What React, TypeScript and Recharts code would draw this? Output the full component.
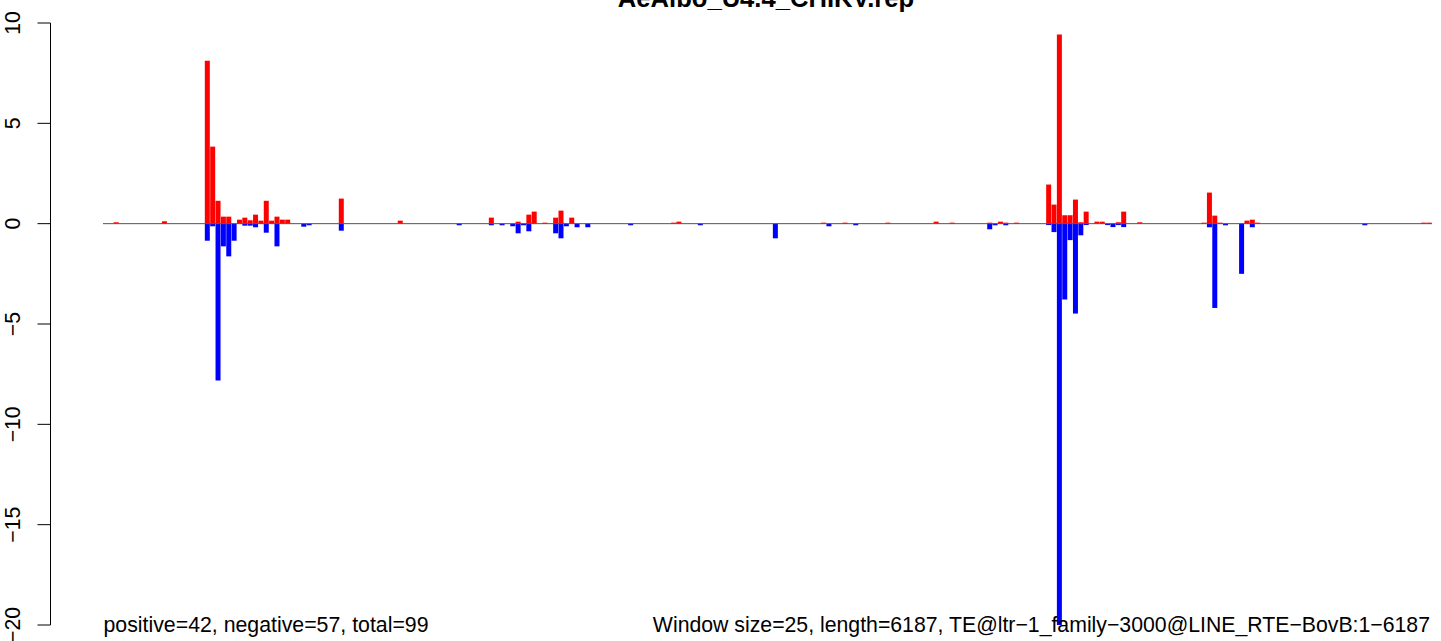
import React from 'react';
import { BarChart, Bar, XAxis, YAxis, ReferenceLine } from 'recharts';

const TITLE = 'AeAlbo_U4.4_CHIKV.rep';
const FOOT_LEFT = 'positive=42, negative=57, total=99';
const FOOT_RIGHT = 'Window size=25, length=6187, TE@ltr−1_family−3000@LINE_RTE−BovB:1−6187';
const WINDOW_SIZE = 25;
const SEQ_LENGTH = 6187;
const yTicks = [-20, -15, -10, -5, 0, 5, 10];

// window index -> value (windows with no signal are 0)
const positiveWindows = [2, 11, 19, 20, 21, 22, 23, 25, 26, 27, 28, 29, 30, 31, 32, 33, 34, 44, 55, 72, 77, 79, 80, 82, 84, 85, 87, 106, 107, 134, 138, 146, 155, 158, 165, 167, 168, 170, 176, 177, 178, 179, 180, 181, 182, 183, 185, 186, 189, 190, 193, 205, 206, 207, 208, 213, 214, 215, 246, 247];
const positiveValues = [0.07, 0.12, 8.12, 3.84, 1.14, 0.35, 0.35, 0.2, 0.3, 0.17, 0.45, 0.15, 1.14, 0.15, 0.35, 0.2, 0.2, 1.25, 0.15, 0.3, 0.1, 0.45, 0.6, 0.05, 0.3, 0.65, 0.3, 0.05, 0.1, 0.05, 0.05, 0.05, 0.1, 0.05, 0.05, 0.1, 0.05, 0.05, 1.95, 0.95, 9.43, 0.42, 0.42, 1.2, 0.07, 0.6, 0.1, 0.1, 0.07, 0.6, 0.07, 0.05, 1.55, 0.4, 0.05, 0.15, 0.2, 0.05, 0.05, 0.05];
const negativeWindows = [19, 20, 21, 22, 23, 24, 26, 27, 28, 30, 32, 37, 38, 44, 66, 72, 74, 76, 77, 78, 79, 84, 85, 86, 88, 90, 98, 111, 125, 135, 140, 165, 166, 168, 176, 177, 178, 179, 180, 181, 182, 183, 187, 188, 189, 190, 206, 207, 209, 212, 214, 235];
const negativeValues = [-0.85, -0.13, -7.82, -1.13, -1.63, -0.85, -0.1, -0.1, -0.18, -0.45, -1.13, -0.15, -0.08, -0.35, -0.08, -0.08, -0.08, -0.13, -0.48, -0.08, -0.38, -0.48, -0.73, -0.13, -0.18, -0.18, -0.08, -0.08, -0.73, -0.13, -0.08, -0.28, -0.08, -0.08, -0.07, -0.42, -20, -3.78, -0.82, -4.48, -0.58, -0.07, -0.07, -0.17, -0.07, -0.17, -0.18, -4.2, -0.08, -2.5, -0.18, -0.08];

const windowStarts = Array.from({ length: Math.ceil(SEQ_LENGTH / WINDOW_SIZE) }, (_, i) => i * WINDOW_SIZE + 1);
const data = windowStarts.map((start) => ({ window: start, pos: 0, neg: 0 }));
positiveWindows.forEach((w, k) => { data[w].pos = positiveValues[k]; });
negativeWindows.forEach((w, k) => { data[w].neg = negativeValues[k]; });

const FONT = 'Liberation Sans, Arial, Helvetica, sans-serif';
const fmt = (v: number) => (v < 0 ? '−' + Math.abs(v) : String(v));

const YTick = (props: any) => {
  const { x, y, payload } = props;
  const tx = x - 17.5;
  return (
    <text x={tx} y={y} transform={`rotate(-90, ${tx}, ${y})`} textAnchor="middle" fontSize={21.25} fontFamily={FONT} fill="#000">
      {fmt(payload.value)}
    </text>
  );
};

export default function App() {
  return (
    <div style={{ position: 'absolute', left: 0, top: 0, width: 1441, height: 641, background: '#fff', overflow: 'hidden' }}>
      <div style={{ position: 'absolute', left: 0, top: 0 }}>
        <BarChart width={1441} height={641} data={data} margin={{ top: 23, right: 9, bottom: 16, left: 103 }} barCategoryGap={0} barGap={0} stackOffset="sign">
          <XAxis dataKey="window" hide />
          <YAxis hide domain={[-20, 10]} allowDataOverflow ticks={yTicks} />
          <Bar dataKey="pos" stackId="s" fill="#FF0000" isAnimationActive={false} />
          <Bar dataKey="neg" stackId="s" fill="#0000FF" isAnimationActive={false} />
          <ReferenceLine y={0} stroke="#555555" strokeWidth={1} ifOverflow="visible" />
        </BarChart>
      </div>
      <div style={{ position: 'absolute', left: 0, top: 0 }}>
        <BarChart width={52} height={641} data={data} margin={{ top: 23, right: 1, bottom: 16, left: 0.5 }}>
          <XAxis dataKey="window" hide />
          <YAxis
            domain={[-20, 10]}
            allowDataOverflow
            ticks={yTicks}
            interval={0}
            width={50}
            tickSize={13}
            tickMargin={0}
            axisLine={{ stroke: '#000', strokeWidth: 1 }}
            tickLine={{ stroke: '#000', strokeWidth: 1 }}
            tick={<YTick />}
          />
          <Bar dataKey="pos" fill="none" isAnimationActive={false} />
        </BarChart>
      </div>
      <svg width={1441} height={641} style={{ position: 'absolute', left: 0, top: 0, pointerEvents: 'none' }}>
        <text x={766} y={7} textAnchor="middle" fontSize={25.6} fontWeight="bold" fontFamily={FONT} fill="#000">{TITLE}</text>
        <text x={103.5} y={632} textAnchor="start" fontSize={21.3} fontFamily={FONT} fill="#000">{FOOT_LEFT}</text>
        <text x={1430} y={632} textAnchor="end" fontSize={21.25} fontFamily={FONT} fill="#000">{FOOT_RIGHT}</text>
      </svg>
    </div>
  );
}
